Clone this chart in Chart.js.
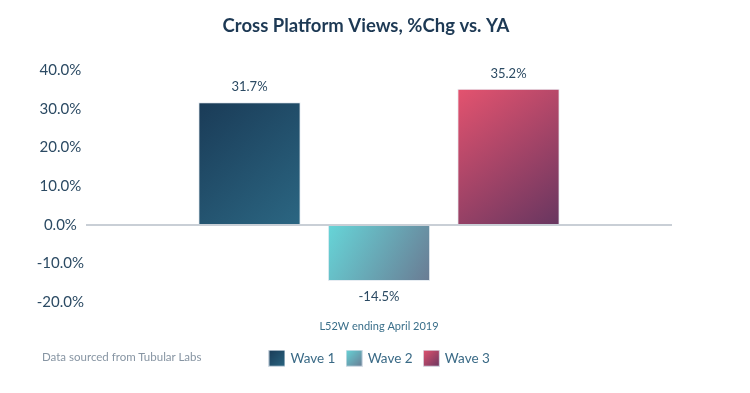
<!DOCTYPE html>
<html>
<head>
<meta charset="utf-8">
<script src="https://cdn.jsdelivr.net/npm/chart.js@4.4.1/dist/chart.umd.min.js"></script>
<style>
  html, body { margin: 0; padding: 0; background: #fff; }
  #wrap { position: relative; width: 750px; height: 393px; }
  #source {
    position: absolute; left: 42px; top: 350px;
    font: 11.5px Lato, sans-serif; color: #8795a3;
  }
</style>
</head>
<body>
<div id="wrap">
  <canvas id="chart" width="750" height="393"></canvas>
  <div id="source">Data sourced from Tubular Labs</div>
</div>
<script>
// Chart data
const categories = ['']
const seriesNames = ['Wave 1', 'Wave 2', 'Wave 3']
const seriesValues = [[31.7], [-14.5], [35.2]]
const yTicks = [40, 30, 20, 10, 0, -10, -20]

// gradient stops per wave (top-left -> bottom-right)
const gradStops = [
  ['#1a3b57', '#2b6682'],
  ['#66d5d8', '#6a7b93'],
  ['#e4536f', '#683660']
]
const legendColors = ['#234f6c', '#68a7b5', '#a9456a']

function barGradient(context) {
  const i = context.datasetIndex
  const chart = context.chart
  const meta = chart.getDatasetMeta(i)
  const el = meta.data[context.dataIndex === undefined ? 0 : context.dataIndex]
  if (!el || el.x === undefined || isNaN(el.y) || context.dataIndex === undefined) {
    return legendColors[i]
  }
  const left = el.x - el.width / 2
  const right = el.x + el.width / 2
  const top = Math.min(el.y, el.base)
  const bottom = Math.max(el.y, el.base)
  const g = chart.ctx.createLinearGradient(left, top, right, bottom)
  g.addColorStop(0, gradStops[i][0])
  g.addColorStop(1, gradStops[i][1])
  return g
}

// small gradient swatches for the legend
function legendSwatch(i) {
  const c = document.createElement('canvas')
  c.width = 17
  c.height = 17
  const x = c.getContext('2d')
  const g = x.createLinearGradient(0, 0, 17, 17)
  g.addColorStop(0, gradStops[i][0])
  g.addColorStop(1, gradStops[i][1])
  x.fillStyle = g
  x.fillRect(0.5, 0.5, 16, 16)
  x.strokeStyle = 'rgba(220, 228, 236, 0.8)'
  x.lineWidth = 1
  x.strokeRect(0.5, 0.5, 16, 16)
  return c
}

// value labels above / below each bar
const valueLabels = {
  id: 'valueLabels',
  afterDatasetsDraw(chart) {
    const ctx = chart.ctx
    ctx.save()
    ctx.font = '13px Lato, sans-serif'
    ctx.fillStyle = '#2b4a63'
    ctx.textAlign = 'center'
    ctx.textBaseline = 'middle'
    chart.data.datasets.forEach((ds, i) => {
      chart.getDatasetMeta(i).data.forEach((bar, j) => {
        const v = ds.data[j]
        const y = v >= 0 ? bar.y - 15 : bar.y + 16
        ctx.fillText(v.toFixed(1) + '%', bar.x, y)
      })
    })
    ctx.restore()
  }
}

// nudge title and legend to the right like the original
const shiftBoxes = {
  id: 'shiftBoxes',
  afterLayout(chart) {
    chart.titleBlock.left += 30
    chart.titleBlock.right += 30
    chart.legend.left += 44
    chart.legend.right += 44
  }
}

const chart = new Chart(document.getElementById('chart'), {
  type: 'bar',
  data: {
    labels: categories,
    datasets: seriesNames.map((name, i) => ({
      label: name,
      data: seriesValues[i],
      backgroundColor: barGradient,
      borderColor: 'rgba(220, 228, 236, 0.7)',
      borderWidth: 1,
      barPercentage: 0.79,
      categoryPercentage: 0.663
    }))
  },
  options: {
    responsive: false,
    animation: false,
    layout: { padding: { left: 0, right: 78, top: 0, bottom: 18 } },
    plugins: {
      title: {
        display: true,
        text: 'Cross Platform Views, %Chg vs. YA',
        color: '#1d3954',
        font: { family: 'Lato', size: 18.5, weight: 'bold' },
        padding: { top: 15, bottom: 33 }
      },
      legend: {
        position: 'bottom',
        labels: {
          color: '#3a6a86',
          font: { family: 'Lato', size: 13.5 },
          usePointStyle: true,
          boxWidth: 17,
          boxHeight: 17,
          padding: 12,
          generateLabels(chart) {
            return chart.data.datasets.map((ds, i) => ({
              text: ds.label,
              pointStyle: legendSwatch(i),
              fillStyle: legendColors[i],
              strokeStyle: 'rgba(0,0,0,0)',
              lineWidth: 0,
              fontColor: '#3a6a86',
              datasetIndex: i
            }))
          }
        }
      },
      tooltip: { enabled: false }
    },
    scales: {
      x: {
        grid: { display: false },
        border: { display: false },
        ticks: { display: false },
        title: {
          display: true,
          text: 'L52W ending April 2019',
          color: '#3a6f8a',
          font: { family: 'Lato', size: 11 },
          padding: { top: 10, bottom: 6 }
        }
      },
      y: {
        min: -20,
        max: 40,
        afterBuildTicks(axis) {
          axis.ticks = yTicks.map((v) => ({ value: v }))
        },
        afterFit(axis) {
          axis.width = 86
        },
        grid: {
          drawTicks: false,
          lineWidth: 2,
          color: (c) => (c.tick && c.tick.value === 0 ? '#c9cfd6' : 'rgba(0,0,0,0)')
        },
        border: { display: false },
        ticks: {
          crossAlign: 'center',
          padding: 2,
          color: '#2b4a63',
          font: { family: 'Lato', size: 15 },
          callback: (v) => v.toFixed(1) + '%'
        }
      }
    }
  },
  plugins: [valueLabels, shiftBoxes]
})

// second pass so the gradients can use the bar positions
chart.update()
</script>
</body>
</html>
